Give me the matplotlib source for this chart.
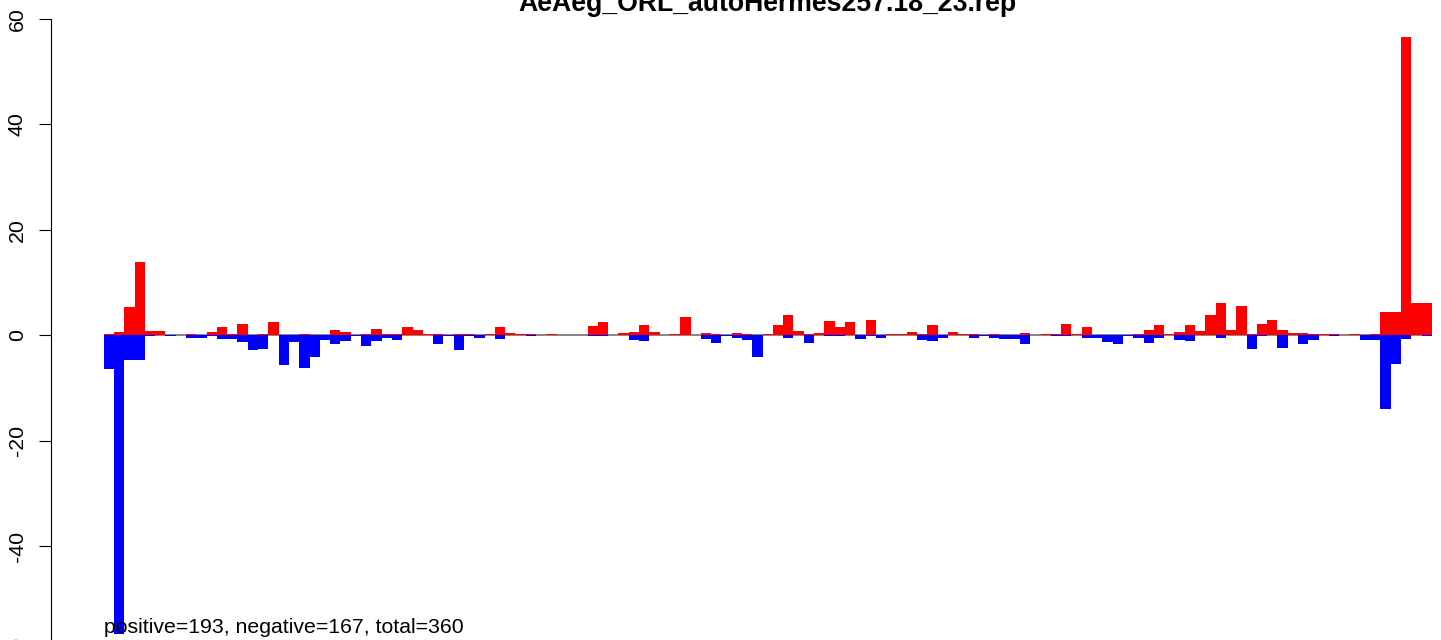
import matplotlib
matplotlib.use("Agg")
import matplotlib.pyplot as plt
import numpy as np

plt.rcParams['font.family'] = ['Liberation Sans', 'DejaVu Sans']
plt.rcParams['axes.unicode_minus'] = False

title = "AeAeg_ORL_autoHermes257.18_23.rep"
note = "positive=193, negative=167, total=360"

# red bars (positive strand), one per bin
pos = [0.25, 0.6, 5.3, 13.9, 0.8, 0.8, 0, 0, 0.25, 0,
       0.6, 1.5, 0.25, 2.1, 0, 0.25, 2.5, 0, 0, 0.25,
       0, 0, 0.95, 0.6, 0, 0.2, 1.3, 0.2, 0.2, 1.5,
       1.1, 0.2, 0.2, 0, 0.2, 0.2, 0, 0.2, 1.5, 0.4,
       0.2, 0.2, 0, 0.2, 0, 0, 0, 1.7, 2.5, 0,
       0.4, 0.6, 1.9, 0.6, 0, 0.2, 3.4, 0, 0.4, 0.2,
       0, 0.4, 0.2, 0, 0.2, 1.9, 3.8, 0.76, 0.2, 0.4,
       2.7, 1.5, 2.5, 0, 2.85, 0, 0.2, 0.2, 0.6, 0.2,
       1.9, 0, 0.6, 0.2, 0.2, 0, 0.2, 0, 0, 0.4,
       0, 0.2, 0.2, 2.1, 0.2, 1.5, 0, 0, 0, 0,
       0.2, 0.95, 1.9, 0.2, 0.6, 1.9, 0.76, 3.8, 6.1, 1.1,
       5.5, 0.2, 2.1, 2.85, 1.1, 0.4, 0.4, 0.2, 0.2, 0.2,
       0, 0.2, 0, 0.2, 4.4, 4.4, 56.6, 6.1, 6.1]

# blue bars (negative strand)
neg = [-6.3, -56.6, -4.6, -4.7, -0.1, 0, -0.2, 0, -0.4, -0.4,
       -0.1, -0.6, -0.6, -1.3, -2.8, -2.5, 0, -5.7, -1.3, -6.2,
       -4.0, -0.95, -1.7, -1.1, -0.2, -2.1, -1.1, -0.4, -0.95, 0,
       0, 0, -1.7, -0.2, -2.7, -0.2, -0.4, 0, -0.6, 0,
       0, -0.2, 0, 0, 0, 0, 0, -0.1, -0.1, 0,
       0, -0.95, -1.1, 0, 0, 0, 0, 0, -0.6, -1.5,
       -0.2, -0.4, -0.8, -4.0, 0, 0, -0.4, 0, -1.5, 0,
       -0.2, -0.2, 0, -0.6, -0.2, -0.4, 0, 0, 0, -0.8,
       -1.1, -0.4, 0, 0, -0.4, -0.2, -0.4, -0.6, -0.6, -1.7,
       0, 0, -0.2, -0.2, 0, -0.4, -0.4, -1.3, -1.7, -0.2,
       -0.4, -1.5, -0.4, 0, -0.8, -1.1, 0, 0, -0.4, 0,
       0, -2.5, -0.2, 0, -2.3, 0, -1.7, -0.8, 0, -0.2,
       0, 0, -0.95, -0.95, -14.0, -5.5, -0.7, 0, -0.2]

yticks = [-60, -40, -20, 0, 20, 40, 60]

n = len(pos)
x = np.arange(n)

W, H = 1441, 640
fig = plt.figure(figsize=(W / 100, H / 100), dpi=100)
# plot region like R: axis at x=50.5px, region runs past the right edge
ax = fig.add_axes([50.5 / W, (H - 652) / H, (1485 - 50.5) / W, (652 - 18.8) / H])
ax.set_xlim(-0.04 * n, 1.04 * n)
ax.set_ylim(-60, 60)

ax.hlines(0, 0, n, color='#666666', lw=1.1, zorder=1)
ax.bar(x, pos, width=1, align='edge', color='#ff0000', linewidth=0, antialiased=False, zorder=2)
ax.bar(x, neg, width=1, align='edge', color='#0000ff', linewidth=0, antialiased=False, zorder=2)

for s in ['top', 'right', 'bottom']:
    ax.spines[s].set_visible(False)
ax.spines['left'].set_bounds(-60, 60)
ax.spines['left'].set_linewidth(0.8)
ax.set_xticks([])
ax.set_yticks(yticks)
ax.tick_params(axis='y', length=9, width=0.8, pad=8, labelsize=15.3, labelrotation=90)
for lab in ax.get_yticklabels():
    lab.set_va('center')

ax.text(0, -56.4, note, ha='left', va='baseline', fontsize=15.3)
fig.text(767 / W, 1 - 11 / H, title, ha='center', va='baseline',
         fontsize=19.2, fontweight='bold')

fig.savefig("out.png", dpi=100)
